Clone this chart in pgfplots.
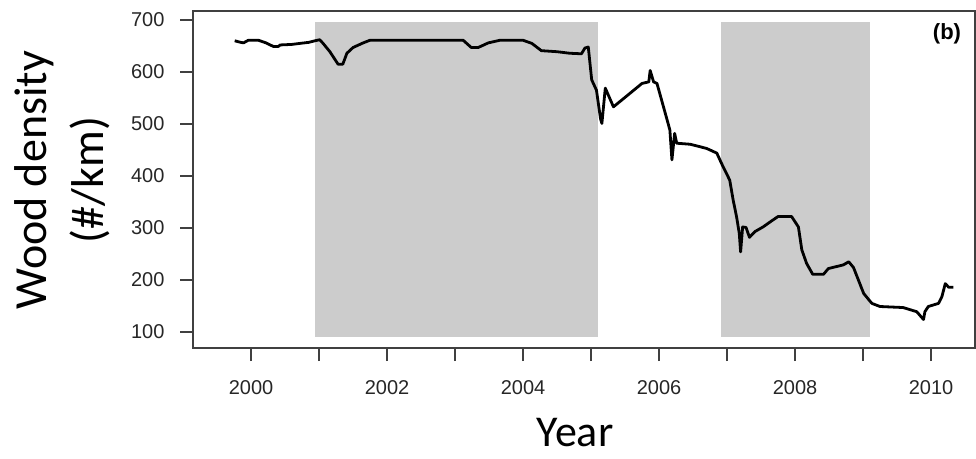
\documentclass[border=0pt]{standalone}
\usepackage{fontspec}
\setmainfont{Liberation Sans}
\newfontfamily\carlito{Carlito}
\usepackage{pgfplots}
\pgfplotsset{compat=1.18}
\begin{document}
\begin{tikzpicture}[x=1pt,y=1pt]
\useasboundingbox (0,0) rectangle (976,458);
\begin{axis}[
  at={(193pt,110pt)}, anchor=south west,
  width=782pt, height=337pt, scale only axis,
  xmin=1999.147, xmax=2010.647,
  ymin=69.2, ymax=717.3,
  axis line style={black!75, line width=1.1pt},
  tick style={black!75, line width=1.1pt},
  major tick length=13pt,
  tick align=outside,
  xtick pos=lower, ytick pos=left,
  xtick={2000,2001,2002,2003,2004,2005,2006,2007,2008,2009,2010},
  xticklabels={2000,,2002,,2004,,2006,,2008,,2010},
  ytick={100,200,300,400,500,600,700},
  /pgf/number format/assume math mode=true,
  /pgf/number format/1000 sep={},
  ticklabel style={font=\fontsize{20}{22}\selectfont, text=black!85},
  yticklabel style={xshift=-12pt},
  xticklabel style={yshift=-16pt},
  clip=false,
]
\addplot[fill=black!20, draw=none] coordinates {(2000.94,91) (2005.10,91) (2005.10,697) (2000.94,697)} -- cycle;
\addplot[fill=black!20, draw=none] coordinates {(2006.91,91) (2009.10,91) (2009.10,697) (2006.91,697)} -- cycle;
\addplot[black, line width=2.8pt, line join=round, mark=none] coordinates {
(1999.76,660) (1999.85,657) (1999.89,656) (1999.96,661) (2000.11,661) (2000.22,656) (2000.33,649) (2000.40,649) (2000.43,652) (2000.60,653) (2000.72,655) (2000.85,657) (2000.94,660) (2001.01,662) (2001.06,655) (2001.16,639) (2001.24,623) (2001.28,615) (2001.35,615) (2001.41,636) (2001.50,647) (2001.65,656) (2001.75,661) (2003.12,661) (2003.24,647) (2003.34,647) (2003.49,656) (2003.66,661) (2004.00,661) (2004.13,655) (2004.27,641) (2004.50,639) (2004.69,636) (2004.86,635) (2004.91,646) (2004.96,648) (2005.01,585) (2005.08,565) (2005.14,510) (2005.16,501) (2005.21,569) (2005.33,533) (2005.48,549) (2005.75,578) (2005.85,581) (2005.87,603) (2005.92,581) (2005.97,578) (2006.14,498) (2006.16,488) (2006.19,431) (2006.23,482) (2006.26,463) (2006.46,461) (2006.70,453) (2006.85,444) (2006.92,424) (2007.04,392) (2007.09,354) (2007.14,322) (2007.18,290) (2007.20,254) (2007.23,302) (2007.28,301) (2007.33,282) (2007.41,293) (2007.53,302) (2007.66,314) (2007.75,322) (2007.95,322) (2008.05,302) (2008.10,258) (2008.17,232) (2008.26,211) (2008.42,211) (2008.49,222) (2008.71,229) (2008.79,235) (2008.86,224) (2009.01,174) (2009.13,155) (2009.25,149) (2009.59,147) (2009.79,139) (2009.89,124) (2009.91,139) (2009.96,149) (2010.11,155) (2010.16,168) (2010.21,193) (2010.26,186) (2010.33,186)
};
\end{axis}
\node[rotate=90, align=center, font=\carlito\fontsize{46}{57}\selectfont] at (62,278) {Wood density\\(\#/km)};
\node[inner sep=0pt, font=\carlito\fontsize{44}{52}\selectfont] at (575,25.5) {Year};
\node[font=\bfseries\fontsize{22}{24}\selectfont] at (947,424) {(b)};
\end{tikzpicture}
\end{document}
